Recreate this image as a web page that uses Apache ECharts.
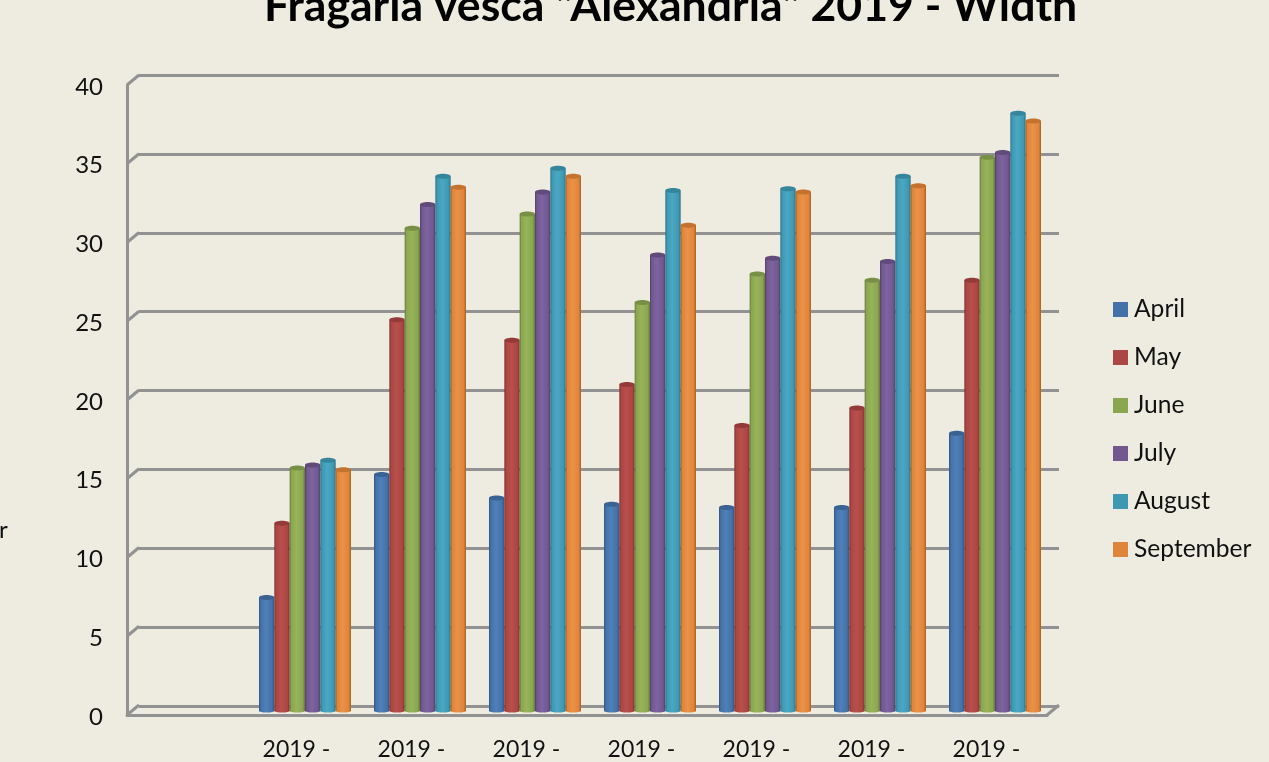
<!DOCTYPE html>
<html><head><meta charset="utf-8">
<style>html,body{margin:0;padding:0;background:#EEECE1;overflow:hidden}#c{width:1269px;height:762px}</style>
<script src="https://cdn.jsdelivr.net/npm/echarts@6/dist/echarts.min.js"></script>
</head><body><div id="c"></div>
<script>
const titleText = 'Fragaria vesca "Alexandria" 2019 - Width';
const categories = ['', '2019 -', '2019 -', '2019 -', '2019 -', '2019 -', '2019 -', '2019 -'];
const months = ['April', 'May', 'June', 'July', 'August', 'September'];
const april = [null, 7.2, 15.0, 13.5, 13.1, 12.9, 12.9, 17.6];
const may = [null, 11.9, 24.8, 23.5, 20.7, 18.1, 19.2, 27.3];
const june = [null, 15.4, 30.6, 31.5, 25.9, 27.7, 27.3, 35.1];
const july = [null, 15.6, 32.1, 32.9, 28.9, 28.7, 28.5, 35.4];
const august = [null, 15.9, 33.9, 34.4, 33.0, 33.1, 33.9, 37.9];
const september = [null, 15.3, 33.2, 33.9, 30.8, 32.9, 33.3, 37.4];
const yTicks = [0, 5, 10, 15, 20, 25, 30, 35, 40];
const allValues = [april, may, june, july, august, september];
const colors = ['#4472A8', '#AA4643', '#8AA650', '#72588F', '#3F98B2', '#DE853B'];
const darks = ['#2F5480', '#7E302E', '#64793A', '#503E68', '#2A7186', '#A9601F'];
const lights = ['#4F80BA', '#BA4F4C', '#97B45A', '#7E64A0', '#4AA8C4', '#EC9248'];
const capColors = ['#3A6394', '#943B39', '#779045', '#614B7B', '#35859C', '#C4722D'];
const FONT = 'Lato';
const GRAY = '#929292';
const DX = 12, DY = -10;

function grad(i) {
  return new echarts.graphic.LinearGradient(0, 0, 1, 0, [
    {offset: 0, color: darks[i]}, {offset: 0.12, color: colors[i]},
    {offset: 0.45, color: lights[i]}, {offset: 0.85, color: colors[i]},
    {offset: 1, color: darks[i]}]);
}
const BAR_SHARE = 0.8;
const barSeries = months.map((m, i) => ({
  name: m, type: 'bar', xAxisIndex: 2, yAxisIndex: 2, data: allValues[i],
  barWidth: (BAR_SHARE * 100 / 6) + '%', barGap: '0%', z: 3 + i,
  itemStyle: {color: grad(i)}, silent: true
}));
const capSeries = months.map((m, i) => ({
  name: 'cap' + i, type: 'custom', xAxisIndex: 2, yAxisIndex: 2, z: 4 + i, silent: true,
  data: allValues[i].map((v, k) => [k, v]),
  encode: {x: 0, y: 1},
  renderItem(params, api) {
    if (api.value(1) == null || isNaN(api.value(1))) return;
    const k = api.value(0), top = api.coord([k, api.value(1)]), base = api.coord([k, 0]);
    const band = api.size([1, 0])[0], w = band * BAR_SHARE / 6;
    const cx = top[0] + (i - 2.5) * w;
    return {type: 'group', children: [
      {type: 'ellipse', shape: {cx, cy: base[1], rx: w / 2, ry: 1.5}, style: {fill: grad(i)}},
      {type: 'ellipse', shape: {cx, cy: top[1], rx: w / 2, ry: 2.5}, style: {fill: capColors[i]}}
    ]};
  }
}));
const wallSeries = {
  type: 'custom', xAxisIndex: 0, yAxisIndex: 0, z: 2, silent: true,
  data: yTicks.map(v => [0, v]), encode: {y: 1},
  renderItem(params, api) {
    const cs = params.coordSys, y = api.coord([0, api.value(1)])[1];
    const style = {stroke: GRAY, lineWidth: 3, fill: null};
    const kids = [{type: 'line', shape: {x1: cs.x, y1: y, x2: cs.x + DX, y2: y + DY}, style}];
    if (api.value(1) === 0) kids.push({type: 'line', shape: {x1: cs.x + cs.width, y1: y, x2: cs.x + cs.width + DX, y2: y + DY}, style});
    return {type: 'group', children: kids};
  }
};
const hiddenY = {type: 'value', min: 0, max: 40, interval: 5, axisLine: {show: false}, axisTick: {show: false}, axisLabel: {show: false}, splitLine: {show: false}};
const hiddenX = {type: 'category', data: categories, axisLine: {show: false}, axisTick: {show: false}, axisLabel: {show: false}};
const chart = echarts.init(document.getElementById('c'), null, {renderer: 'canvas'});
chart.setOption({
  animation: false, backgroundColor: '#EEECE1',
  title: {text: titleText, left: 259, top: -21, textStyle: {fontFamily: FONT, fontWeight: 'bold', fontSize: 44.6, color: '#000'}},
  legend: {
    orient: 'vertical', left: 1108, top: 292, itemWidth: 15, itemHeight: 15, itemGap: 23,
    textStyle: {fontFamily: FONT, fontSize: 24.6, color: '#111', padding: [0, 0, 0, 1]},
    icon: 'rect',
    data: months.map((m, i) => ({name: m, itemStyle: {color: colors[i]}}))
  },
  grid: [
    {left: 127, top: 85, width: 920, height: 630},
    {left: 139, top: 75, width: 920, height: 631},
    {left: 132.5, top: 80, width: 920, height: 631},
    {left: 127, top: 87, width: 920, height: 630}
  ],
  xAxis: [
    {type: 'category', data: categories, gridIndex: 0,
     axisLine: {show: true, lineStyle: {color: GRAY, width: 3}}, axisTick: {show: false},
     axisLabel: {interval: 0, margin: 23, fontFamily: FONT, fontSize: 23, color: '#111', padding: [0, 6, 0, 0]}},
    Object.assign({}, hiddenX, {gridIndex: 1}),
    Object.assign({}, hiddenX, {gridIndex: 2}),
    Object.assign({}, hiddenX, {gridIndex: 3})
  ],
  yAxis: [
    {type: 'value', gridIndex: 0, min: 0, max: 40, interval: 5,
     axisLine: {show: true, lineStyle: {color: GRAY, width: 3}}, axisTick: {show: false}, splitLine: {show: false}, axisLabel: {show: false}},
    Object.assign({}, hiddenY, {gridIndex: 1, splitLine: {show: true, lineStyle: {color: GRAY, width: 3}}}),
    Object.assign({}, hiddenY, {gridIndex: 2}),
    Object.assign({}, hiddenY, {gridIndex: 3, axisLabel: {show: true, margin: 24, fontFamily: FONT, fontSize: 24, color: '#111'}})
  ],
  graphic: [{type: 'text', left: -1, top: 518, style: {text: 'r', fontFamily: FONT, fontSize: 24, fill: '#111'}}],
  series: [wallSeries].concat(barSeries, capSeries)
});
</script></body></html>
